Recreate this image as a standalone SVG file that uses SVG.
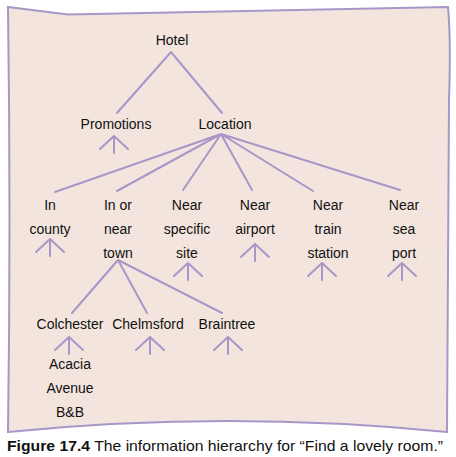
<svg xmlns="http://www.w3.org/2000/svg" width="456" height="457" viewBox="0 0 456 457">
<style>
.t{font-family:"Liberation Sans",Arial,sans-serif;font-size:14px;fill:#111;text-anchor:middle}
.e{stroke:#a796c8;stroke-width:2;fill:none;stroke-linecap:round;stroke-linejoin:round}
.cap{font-family:"Liberation Sans",Arial,sans-serif;font-size:15px;fill:#111}
</style>
<defs>
<path id="up" d="M-14,13 L0,0 L14,13 M0,0 L0,17" class="e"/>
</defs>
<rect width="456" height="457" fill="#fff"/>
<path id="frame" d="M8,7 L68,14.5 L448,7 Q451,40 449,100 L447,432 Q228,410 8,432 Q11,220 8,7 Z" fill="#f3e5de" stroke="#a796c8" stroke-width="2"/>
<g id="connectors">
<path class="e" d="M171,52 L117,113 M171,52 L222,113"/>
<path class="e" d="M221,134 L55,192 M221,134 L117,191 M221,134 L183,190 M221,134 L252,190 M221,134 L313,191 M221,134 L400,190"/>
<path class="e" d="M118,260 L72,313 M118,260 L147,313 M118,260 L222,313"/>
<use href="#up" x="114" y="136"/>
<use href="#up" x="50" y="239"/>
<use href="#up" x="188" y="263"/>
<use href="#up" x="255" y="244"/>
<use href="#up" x="322" y="263"/>
<use href="#up" x="402" y="263"/>
<use href="#up" x="69" y="337"/>
<use href="#up" x="150" y="337"/>
<use href="#up" x="228" y="337"/>
</g>
<g id="hotel"><text class="t" x="172" y="45">Hotel</text></g>
<g id="promotions"><text class="t" x="116" y="129">Promotions</text></g>
<g id="location"><text class="t" x="225" y="129">Location</text></g>
<g id="in-county"><text class="t" x="50" y="210">In</text><text class="t" x="50" y="234">county</text></g>
<g id="in-or-near-town"><text class="t" x="118" y="210">In or</text><text class="t" x="118" y="234">near</text><text class="t" x="118" y="258">town</text></g>
<g id="near-specific-site"><text class="t" x="187" y="210">Near</text><text class="t" x="187" y="234">specific</text><text class="t" x="187" y="258">site</text></g>
<g id="near-airport"><text class="t" x="255" y="210">Near</text><text class="t" x="255" y="234">airport</text></g>
<g id="near-train-station"><text class="t" x="328" y="210">Near</text><text class="t" x="328" y="234">train</text><text class="t" x="328" y="258">station</text></g>
<g id="near-sea-port"><text class="t" x="404" y="210">Near</text><text class="t" x="404" y="234">sea</text><text class="t" x="404" y="258">port</text></g>
<g id="colchester"><text class="t" x="70" y="329">Colchester</text></g>
<g id="chelmsford"><text class="t" x="148" y="329">Chelmsford</text></g>
<g id="braintree"><text class="t" x="227" y="329">Braintree</text></g>
<g id="acacia"><text class="t" x="70" y="369">Acacia</text><text class="t" x="70" y="393">Avenue</text><text class="t" x="70" y="417">B&amp;B</text></g>
<text class="cap" x="7" y="451" textLength="436" lengthAdjust="spacingAndGlyphs"><tspan font-weight="bold">Figure 17.4</tspan> The information hierarchy for “Find a lovely room.”</text>
</svg>
